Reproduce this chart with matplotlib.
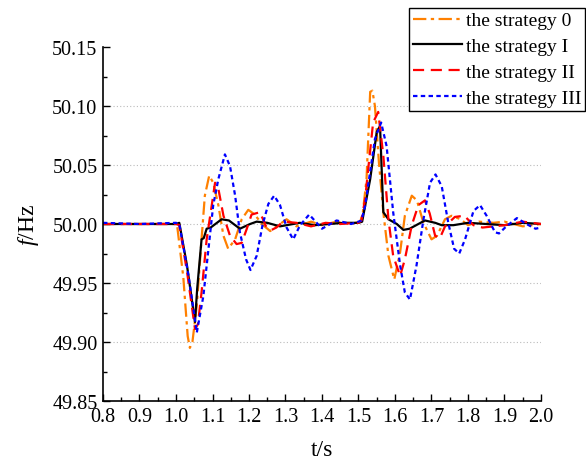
import numpy as np
import matplotlib
matplotlib.use('Agg')
import matplotlib.pyplot as plt

plt.rcParams['font.family'] = ['Liberation Serif', 'DejaVu Serif']
plt.rcParams['mathtext.fontset'] = 'custom'
plt.rcParams['mathtext.rm'] = 'Liberation Serif'
plt.rcParams['mathtext.it'] = 'Liberation Serif:italic'

# strategy 0 (orange dash-dot)
t_s0 = [0.80, 0.90, 1.00, 1.003, 1.02, 1.032, 1.038, 1.045, 1.057, 1.070, 1.079, 1.091, 1.102, 1.116,
        1.130, 1.143, 1.162, 1.180, 1.198, 1.216, 1.235, 1.258, 1.285, 1.303, 1.33, 1.37, 1.40, 1.44,
        1.48, 1.505, 1.512, 1.522, 1.532, 1.538, 1.545, 1.556, 1.568, 1.582, 1.598, 1.614, 1.627,
        1.646, 1.660, 1.678, 1.700, 1.715, 1.737, 1.755, 1.78, 1.80, 1.83, 1.87, 1.90, 1.95, 2.00]
f_s0 = [50.000, 50.000, 50.000, 49.999, 49.955, 49.905, 49.895, 49.900, 49.931, 49.987, 50.024, 50.041,
        50.035, 50.016, 49.990, 49.979, 49.987, 50.004, 50.012, 50.008, 50.000, 49.994, 50.000, 50.004,
        49.998, 50.002, 49.999, 50.002, 50.000, 50.002, 50.010, 50.038, 50.112, 50.113, 50.100, 50.052,
        50.010, 49.973, 49.953, 49.976, 50.007, 50.024, 50.020, 50.001, 49.987, 49.990, 50.004, 50.007,
        50.004, 49.999, 50.002, 50.001, 50.002, 49.998, 50.000]

# strategy I (black solid)
t_s1 = [0.80, 0.90, 1.00, 1.009, 1.03, 1.052, 1.058, 1.070, 1.076, 1.084, 1.095, 1.125, 1.145, 1.175,
        1.203, 1.221, 1.25, 1.285, 1.339, 1.38, 1.42, 1.46, 1.50, 1.510, 1.532, 1.550, 1.559, 1.568,
        1.582, 1.605, 1.623, 1.64, 1.664, 1.682, 1.71, 1.728, 1.76, 1.80, 1.85, 1.90, 1.95, 2.00]
f_s1 = [50.000, 50.000, 50.000, 50.001, 49.965, 49.917, 49.945, 49.987, 49.988, 49.996, 49.997, 50.004,
        50.003, 49.996, 50.000, 50.002, 50.001, 49.998, 50.001, 49.999, 50.000, 50.001, 50.001, 50.002,
        50.038, 50.078, 50.083, 50.010, 50.004, 50.000, 49.995, 49.996, 50.000, 50.003, 50.001, 49.999,
        49.999, 50.001, 50.000, 49.999, 50.001, 50.000]

# strategy II (red dashed)
t_s2 = [0.80, 0.90, 1.00, 1.009, 1.03, 1.052, 1.060, 1.070, 1.084, 1.098, 1.107, 1.116, 1.130, 1.148,
        1.166, 1.180, 1.194, 1.207, 1.230, 1.248, 1.262, 1.275, 1.293, 1.33, 1.37, 1.41, 1.45, 1.50,
        1.508, 1.518, 1.540, 1.554, 1.568, 1.582, 1.595, 1.614, 1.627, 1.646, 1.664, 1.682, 1.695,
        1.710, 1.723, 1.737, 1.764, 1.79, 1.815, 1.84, 1.90, 1.95, 2.00]
f_s2 = [50.000, 50.000, 50.000, 49.999, 49.960, 49.911, 49.915, 49.942, 49.987, 50.016, 50.035, 50.030,
        50.007, 49.990, 49.983, 49.984, 49.996, 50.008, 50.010, 49.997, 49.995, 49.997, 50.002, 50.001,
        49.998, 50.001, 50.000, 50.001, 50.003, 50.021, 50.086, 50.095, 50.058, 50.004, 49.973, 49.956,
        49.970, 49.999, 50.016, 50.020, 50.009, 49.990, 49.988, 49.998, 50.006, 50.007, 49.999, 49.997,
        49.999, 50.002, 50.000]

# strategy III (blue dotted)
t_s3 = [0.80, 0.90, 1.00, 1.009, 1.035, 1.057, 1.075, 1.089, 1.102, 1.116, 1.134, 1.148, 1.162, 1.175,
        1.192, 1.204, 1.221, 1.237, 1.253, 1.269, 1.285, 1.303, 1.321, 1.34, 1.365, 1.40, 1.44, 1.48,
        1.50, 1.508, 1.518, 1.545, 1.562, 1.577, 1.595, 1.614, 1.627, 1.641, 1.659, 1.678, 1.696,
        1.711, 1.728, 1.746, 1.762, 1.776, 1.792, 1.815, 1.833, 1.851, 1.874, 1.885, 1.905, 1.934,
        1.96, 1.985, 2.00]
f_s3 = [50.001, 50.000, 50.001, 50.000, 49.955, 49.908, 49.939, 49.979, 50.016, 50.038, 50.059, 50.049,
        50.024, 49.993, 49.970, 49.961, 49.973, 49.999, 50.017, 50.024, 50.016, 49.997, 49.987, 49.999,
        50.008, 49.996, 50.003, 50.000, 50.002, 50.003, 50.015, 50.072, 50.086, 50.066, 50.010, 49.965,
        49.942, 49.936, 49.965, 50.004, 50.035, 50.042, 50.032, 50.001, 49.979, 49.975, 49.987, 50.011,
        50.016, 50.007, 49.993, 49.992, 49.998, 50.005, 50.000, 49.996, 49.997]

labels = ['the strategy 0', 'the strategy I', 'the strategy II', 'the strategy III']

fig = plt.figure(figsize=(5.86, 4.64), dpi=100)
ax = fig.add_axes([103 / 586, 62 / 464, 438 / 586, 354 / 464])

ax.plot(t_s0, f_s0, color='#ff8000', lw=1.6, dashes=(6, 2, 1.5, 2), label=labels[0])
ax.plot(t_s1, f_s1, color='black', lw=1.6, label=labels[1])
ax.plot(t_s2, f_s2, color='#ff0000', lw=1.6, dashes=(5, 3), label=labels[2])
ax.plot(t_s3, f_s3, color='#0000ff', lw=1.6, dashes=(2, 1.5), label=labels[3])

ax.set_xlim(0.8, 2.0)
ax.set_ylim(49.85, 50.15)
ax.set_xticks(np.arange(0.8, 2.01, 0.1))
ax.set_xticks(np.arange(0.85, 2.0, 0.1), minor=True)
ax.set_yticks(np.arange(49.85, 50.151, 0.05))
ax.set_yticks(np.arange(49.875, 50.15, 0.05), minor=True)
ax.set_xticklabels(['%.1f' % v for v in np.arange(0.8, 2.01, 0.1)])
ax.set_yticklabels(['%.2f' % v for v in np.arange(49.85, 50.151, 0.05)])
ax.tick_params(which='major', direction='in', length=5, width=1, labelsize=14.5, pad=4)
ax.tick_params(which='minor', direction='in', length=3, width=1)

for yv in [49.90, 49.95, 50.00, 50.05, 50.10]:
    ax.axhline(yv, color='#bbbbbb', lw=0.8, linestyle=(0, (1, 2)), zorder=0)

ax.spines['top'].set_visible(False)
ax.spines['right'].set_visible(False)
ax.spines['left'].set_linewidth(1.2)
ax.spines['bottom'].set_linewidth(1.2)

ax.set_xlabel('t/s', fontsize=17, labelpad=10)
ax.set_ylabel(r'$\mathit{f}$/Hz', fontsize=17, labelpad=8)

leg = ax.legend(loc='upper right', bbox_to_anchor=(585 / 586, 1 - 9 / 464), bbox_transform=fig.transFigure,
                fontsize=14, frameon=True, fancybox=False, edgecolor='black', framealpha=1,
                handlelength=2.5, handletextpad=0.2, borderpad=0.2, labelspacing=0.42, borderaxespad=0)
leg.get_frame().set_linewidth(1.0)

fig.savefig('out.png', dpi=100)
